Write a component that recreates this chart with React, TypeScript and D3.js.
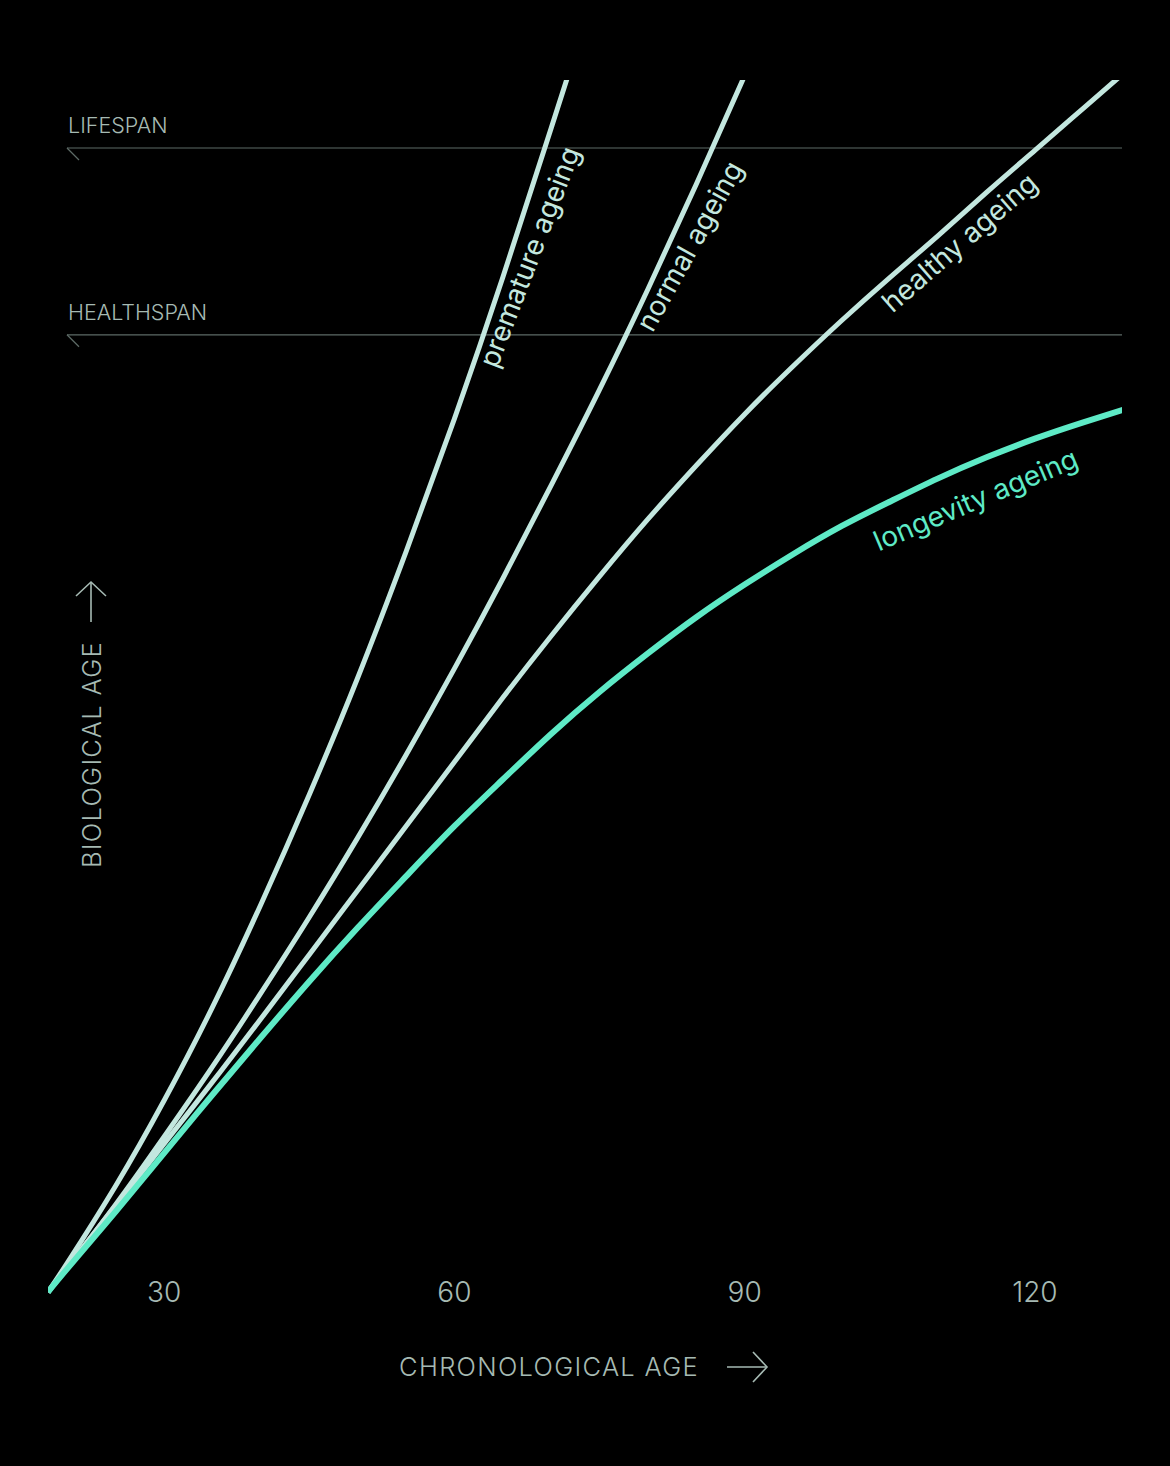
import * as React from 'react'
import * as d3 from 'd3'

const AGES = [18, 20, 25, 30, 35, 40, 45, 50, 55, 60, 65, 70, 75, 80, 85, 90, 95, 100, 105, 110, 115, 120, 125, 130]

// biological age for each series (aligned with the start of AGES)
const PREMATURE = [18, 20.5, 27.1, 34.4, 42.4, 51.2, 60.6, 70.6, 81.4, 92.8, 104.9, 117.7, 130.6]
const NORMAL = [18, 20.1, 25.5, 31.3, 37.3, 43.6, 50.1, 56.9, 64.0, 71.4, 79.1, 87.1, 95.3, 103.9, 112.9, 122.2, 131.7]
const HEALTHY = [18, 20.1, 25.4, 30.7, 36.0, 41.4, 46.9, 52.4, 57.9, 63.4, 68.9, 74.2, 79.3, 84.2, 88.8, 93.2, 97.3, 101.2, 104.9, 108.5, 112.2, 115.8, 119.4, 123.0]
const LONGEVITY = [18, 20.0, 24.9, 29.9, 34.9, 39.8, 44.6, 49.2, 53.6, 57.9, 61.9, 65.8, 69.4, 72.7, 75.8, 78.6, 81.2, 83.6, 85.7, 87.7, 89.5, 91.1, 92.5, 93.8]

const SERIES_NAMES = ['premature ageing', 'normal ageing', 'healthy ageing', 'longevity ageing']
const X_TICKS = [30, 60, 90, 120]

// thresholds on the biological age axis
const HEALTHSPAN = 100
const LIFESPAN = 116

const W = 1170
const H = 1466
const LEFT = 48
const RIGHT = 1122
const TOP = 80
const BOTTOM = 1310
const FONT = "Inter, 'Noto Sans', 'DejaVu Sans', sans-serif"
const TEXT_COLOR = '#a6bab3'
const RULE_COLOR = '#5d6a66'
const PALE = '#c3e7df'
const TEAL = '#5eeac6'

export default function App() {
    React.useEffect(() => {
        document.body.style.margin = '0'
        document.body.style.background = '#000'
    }, [])

    const xScale = d3.scaleLinear().domain([18, 129]).range([LEFT, RIGHT])
    const yScale = d3.scaleLinear().domain([18, LIFESPAN]).range([1292, 148])

    const line = d3.line<[number, number]>()
        .x(d => xScale(d[0]))
        .y(d => yScale(d[1]))
        .curve(d3.curveNatural)

    const series = [PREMATURE, NORMAL, HEALTHY, LONGEVITY].map((vals, i) => ({
        name: SERIES_NAMES[i],
        points: vals.map((v, j) => [AGES[j], v] as [number, number]),
        color: i === 3 ? TEAL : PALE,
        width: i === 3 ? 6 : 5,
    }))

    // where each label hangs off its curve
    const labels = [
        { age: 61.5, dx: 28, dy: -7, angle: -69 },
        { age: 78, dx: 24, dy: 4, angle: -61 },
        { age: 103, dx: 22, dy: 19, angle: -41 },
        { age: 102, dx: 18, dy: 35, angle: -23 },
    ]

    const thresholds = [
        { name: 'LIFESPAN', value: LIFESPAN },
        { name: 'HEALTHSPAN', value: HEALTHSPAN },
    ]

    return <svg width={W} height={H} viewBox={`0 0 ${W} ${H}`}
        style={{ position: 'absolute', left: 0, top: 0, display: 'block', background: '#000' }}>
        <rect width={W} height={H} fill="#000" />
        <defs>
            <clipPath id="plot">
                <rect x={LEFT} y={TOP} width={RIGHT - LEFT} height={BOTTOM - TOP} />
            </clipPath>
        </defs>

        {thresholds.map(t => {
            const y = yScale(t.value)
            return <g key={t.name}>
                <line x1={67} x2={RIGHT} y1={y} y2={y} stroke={RULE_COLOR} strokeWidth={1.2} />
                <line x1={67} x2={79} y1={y} y2={y + 12} stroke={RULE_COLOR} strokeWidth={1.2} />
                <text x={68} y={y - 15} fill={TEXT_COLOR} fontFamily={FONT} fontSize={21.5} fontWeight={300}>{t.name}</text>
            </g>
        })}

        <g clipPath="url(#plot)">
            {series.map(s =>
                <path key={s.name} d={line(s.points) || ''} fill="none" stroke={s.color} strokeWidth={s.width} />
            )}
        </g>

        {series.map((s, i) => {
            const l = labels[i]
            const bio = d3.scaleLinear().domain(s.points.map(p => p[0])).range(s.points.map(p => p[1]))
            const x = xScale(l.age) + l.dx
            const y = yScale(bio(l.age)) + l.dy
            return <text key={s.name} transform={`translate(${x} ${y}) rotate(${l.angle})`}
                fill={s.color} fontFamily={FONT} fontSize={28} fontWeight={400}>{s.name}</text>
        })}

        {X_TICKS.map(t =>
            <text key={t} x={xScale(t)} y={1302} textAnchor="middle" fill={TEXT_COLOR}
                fontFamily={FONT} fontSize={28} fontWeight={300}>{t}</text>
        )}

        <text x={699} y={1376} textAnchor="end" fill={TEXT_COLOR} fontFamily={FONT}
            fontSize={25.5} fontWeight={300} letterSpacing={1.3}>CHRONOLOGICAL AGE</text>
        <g stroke={TEXT_COLOR} strokeWidth={1.6} fill="none">
            <line x1={727} x2={767} y1={1367} y2={1367} />
            <polyline points="753,1352 767,1367 753,1382" />
        </g>

        <text transform="translate(101 868) rotate(-90)" fill={TEXT_COLOR} fontFamily={FONT}
            fontSize={25.5} fontWeight={300} letterSpacing={1.3}>BIOLOGICAL AGE</text>
        <g stroke={TEXT_COLOR} strokeWidth={1.6} fill="none">
            <line x1={91} x2={91} y1={582} y2={622} />
            <polyline points="76,596 91,582 106,596" />
        </g>
    </svg>
}
